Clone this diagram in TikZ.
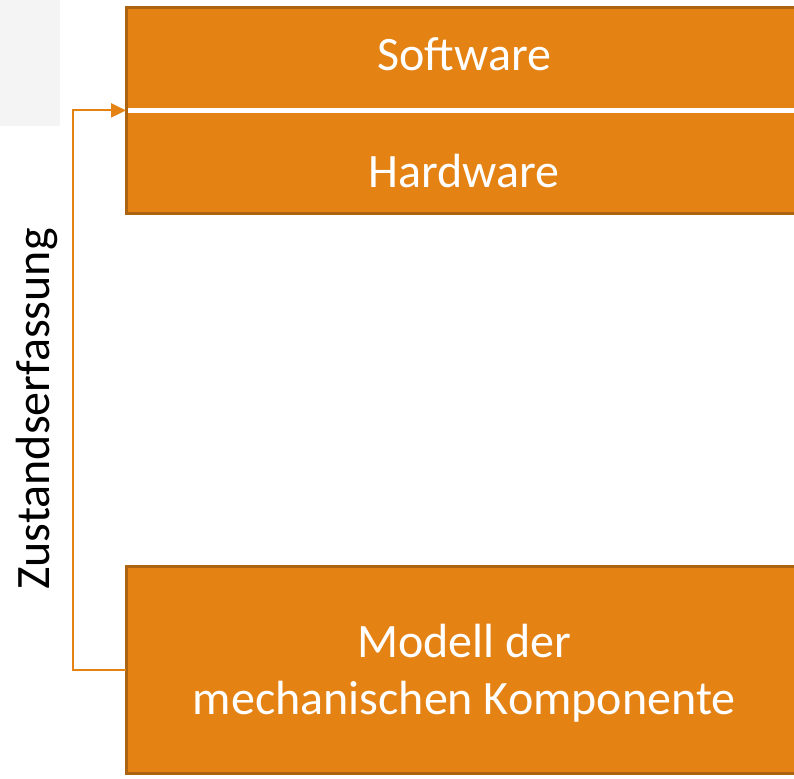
\documentclass[tikz,border=0pt]{standalone}
\usepackage{fontspec}
\setmainfont{Carlito}
\usetikzlibrary{arrows.meta,positioning}
\definecolor{boxorange}{RGB}{228,130,20}
\definecolor{boxedge}{RGB}{172,100,16}
\definecolor{panelgray}{RGB}{244,244,244}
\tikzset{
  block/.style={fill=boxorange,text=white,minimum width=676pt,inner sep=0pt,
    font=\fontsize{48}{57}\selectfont,align=center},
  rim/.style={draw=boxedge,line width=3pt},
  link/.style={draw=boxorange,line width=2.2pt,-{Triangle[length=15pt,width=14pt]}}
}
\begin{document}
\begin{tikzpicture}[x=1pt,y=-1pt]
	\useasboundingbox (0,0) rectangle (794,778);
	% panel left over at the top left
	\fill [panelgray] (0,0) rectangle (60,126);
	% the three blocks
	\node [block,minimum height=100pt,anchor=north west] (software) at (126,8) {\raisebox{0pt}[\height][8pt]{Software}};
	\node [block,minimum height=101pt,below=4pt of software] (hardware) {\raisebox{0pt}[\dimexpr\height+16pt][0pt]{Hardware}};
	\node [block,minimum height=207pt,anchor=north west] (model) at (126,566) {\raisebox{0pt}[\dimexpr\height+6pt][\depth]{Modell der}\\mechanischen Komponente};
	\draw [rim] (software.north east) -- (software.north west) -- (hardware.south west) -- (hardware.south east);
	\draw [rim] (model.north east) -- (model.north west) -- (model.south west) -- (model.south east);
	% feedback
	\coordinate [below=2pt of software.south west] (join);
	\draw [link] (model.west) -- ++(-53,0) |- (join);
	\node [rotate=90,font=\fontsize{48}{57}\selectfont] (state) at (37,409) {Zustandserfassung};
\end{tikzpicture}
\end{document}
